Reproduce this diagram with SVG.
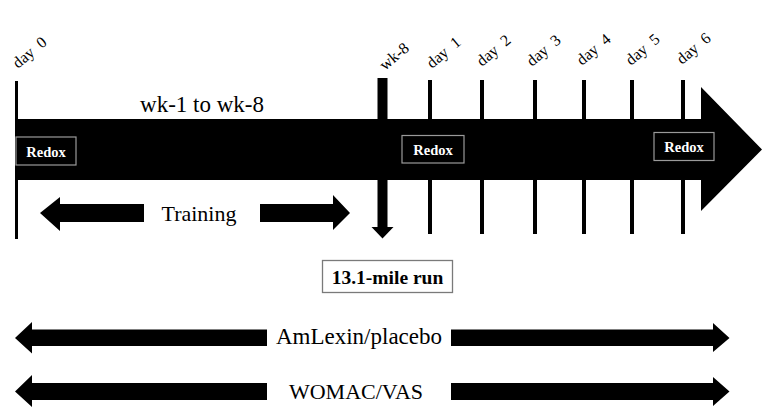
<svg xmlns="http://www.w3.org/2000/svg" width="763" height="418" viewBox="0 0 763 418">
<style>
.lbl{font-family:"Liberation Serif","Times New Roman",serif;font-size:16px;fill:#000;word-spacing:4px}
.big{font-family:"Liberation Serif","Times New Roman",serif;font-size:23px;fill:#000}
.redox{font-family:"Liberation Serif","Times New Roman",serif;font-size:14.5px;font-weight:bold;fill:#fff}
.rbox{fill:#000;stroke:#9a9a9a;stroke-width:1.2}
.tick{fill:#000}
</style>
<rect width="763" height="418" fill="#fff"/>
<g id="timeline">
  <rect x="15" y="81" width="3" height="158" fill="#000"/>
  <polygon points="16,119 701,119 701,87 762,149.5 701,211 701,180 16,180" fill="#000"/>
</g>
<g id="ticks">
  <rect class="tick" x="428" y="80" width="4" height="154"/>
  <rect class="tick" x="480" y="80" width="4" height="154"/>
  <rect class="tick" x="533" y="80" width="4" height="154"/>
  <rect class="tick" x="582" y="80" width="4" height="154"/>
  <rect class="tick" x="630" y="80" width="4" height="154"/>
  <rect class="tick" x="681" y="80" width="4" height="154"/>
</g>
<g id="wk8-arrow">
  <polygon points="377.5,78 387.5,78 387.5,227 393.5,227 382.5,238.5 371.5,227 377.5,227" fill="#000"/>
</g>
<g id="labels">
  <text class="lbl" transform="translate(18,69) rotate(-40)">day 0</text>
  <text class="lbl" transform="translate(385,71) rotate(-40)">wk-8</text>
  <text class="lbl" transform="translate(432,69) rotate(-40)">day 1</text>
  <text class="lbl" transform="translate(482,67) rotate(-40)">day 2</text>
  <text class="lbl" transform="translate(532,67) rotate(-40)">day 3</text>
  <text class="lbl" transform="translate(582,66) rotate(-40)">day 4</text>
  <text class="lbl" transform="translate(631,66) rotate(-40)">day 5</text>
  <text class="lbl" transform="translate(682,65) rotate(-40)">day 6</text>
  <text class="big" x="202" y="112" text-anchor="middle">wk-1 to wk-8</text>
</g>
<g id="redox1">
  <rect class="rbox" x="16" y="137" width="60" height="28"/>
  <text class="redox" x="46" y="157" text-anchor="middle">Redox</text>
</g>
<g id="redox2">
  <rect class="rbox" x="402" y="135.5" width="62" height="27.5"/>
  <text class="redox" x="433" y="155" text-anchor="middle">Redox</text>
</g>
<g id="redox3">
  <rect class="rbox" x="654" y="132.5" width="60" height="28"/>
  <text class="redox" x="684" y="152" text-anchor="middle">Redox</text>
</g>
<g id="training">
  <polygon points="40,213 60,197 60,204 144,204 144,222 60,222 60,231 " fill="#000"/>
  <polygon points="350,213 333,195 333,204 260,204 260,222 333,222 333,230" fill="#000"/>
  <text class="big" x="199" y="221" text-anchor="middle" style="font-size:22px">Training</text>
</g>
<g id="run">
  <rect x="322.5" y="260.5" width="130" height="32" fill="#fff" stroke="#7a7a7a" stroke-width="1.3"/>
  <text x="387.5" y="283.5" text-anchor="middle" font-family="'Liberation Serif','Times New Roman',serif" font-size="19.5" font-weight="bold">13.1-mile run</text>
</g>
<g id="amlexin">
  <polygon points="15,338 32,322 32,329.5 267,329.5 267,346 32,346 32,353.5" fill="#000"/>
  <polygon points="729.5,338 713,323 713,329.5 451,329.5 451,346 713,346 713,352" fill="#000"/>
  <text class="big" x="359" y="343.5" text-anchor="middle">AmLexin/placebo</text>
</g>
<g id="womac">
  <polygon points="15,391.5 32,375 32,383 267,383 267,400 32,400 32,407" fill="#000"/>
  <polygon points="729.5,391.5 713,377 713,383 451,383 451,400 713,400 713,406" fill="#000"/>
  <text class="big" x="356" y="398.5" text-anchor="middle" style="font-size:22px">WOMAC/VAS</text>
</g>
</svg>
